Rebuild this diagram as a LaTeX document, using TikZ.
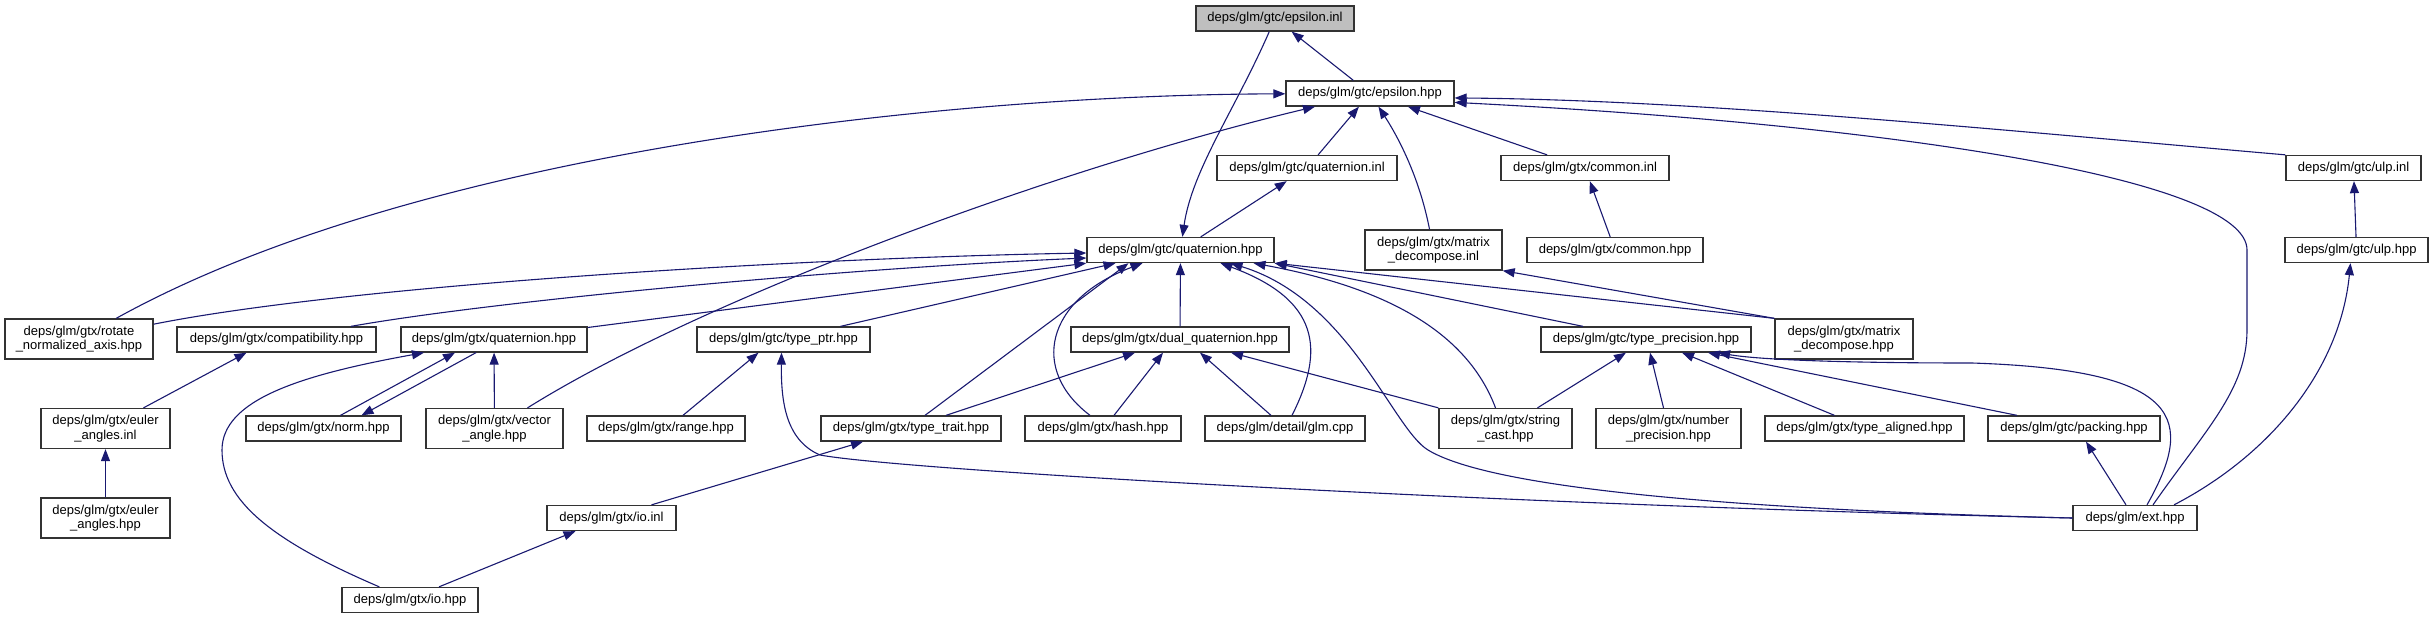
\documentclass[tikz,border=0pt]{standalone}
\usepackage{fontspec}
\setmainfont{Liberation Sans}
\usetikzlibrary{arrows.meta}
\definecolor{edgeblue}{RGB}{25,25,112}
\definecolor{focusgray}{RGB}{191,191,191}
\newcommand\boxfont{\fontsize{13}{14.5}\selectfont}
\begin{document}
\begin{tikzpicture}[x=1pt,y=-1pt,
  file/.style={draw=black!80,line width=1.3pt,fill=white,inner sep=0pt,
    minimum height=25pt,align=center,font=\boxfont},
  twoline/.style={file,minimum height=40pt},
  inc/.style={draw=edgeblue,line width=1.1pt,
    -{Triangle[length=12pt,width=9pt]}}]
  \useasboundingbox (0,0) rectangle (2433,619);
  % files, rank by rank
  \node[file,fill=focusgray,minimum width=158pt] (einl) at (1275,18.5) {deps/glm/gtc/epsilon.inl};
  \node[file,minimum width=168pt] (ehpp) at (1370,93.5) {deps/glm/gtc/epsilon.hpp};
  \node[file,minimum width=180pt] (qinl) at (1307,168) {deps/glm/gtc/quaternion.inl};
  \node[file,minimum width=168pt] (cinl) at (1585,168) {deps/glm/gtx/common.inl};
  \node[file,minimum width=135pt] (ulpinl) at (2353.5,168) {deps/glm/gtc/ulp.inl};
  \node[file,minimum width=187pt] (qhpp) at (1180.5,250) {deps/glm/gtc/quaternion.hpp};
  \node[twoline,minimum width=137pt] (mdinl) at (1433.5,250) {deps/glm/gtx/matrix\\\_decompose.inl};
  \node[file,minimum width=176pt] (chpp) at (1615,250) {deps/glm/gtx/common.hpp};
  \node[file,minimum width=143pt] (ulphpp) at (2356.5,250) {deps/glm/gtc/ulp.hpp};
  \node[twoline,minimum width=148pt] (rot) at (79,339) {deps/glm/gtx/rotate\\\_normalized\_axis.hpp};
  \node[file,minimum width=199pt] (compat) at (276.5,339.5) {deps/glm/gtx/compatibility.hpp};
  \node[file,minimum width=186pt] (xquat) at (494,339.5) {deps/glm/gtx/quaternion.hpp};
  \node[file,minimum width=173pt] (tptr) at (783.5,339.5) {deps/glm/gtc/type\_ptr.hpp};
  \node[file,minimum width=218pt] (dquat) at (1180,339.5) {deps/glm/gtx/dual\_quaternion.hpp};
  \node[file,minimum width=210pt] (tprec) at (1646,339.5) {deps/glm/gtc/type\_precision.hpp};
  \node[twoline,minimum width=138pt] (mdhpp) at (1844,339) {deps/glm/gtx/matrix\\\_decompose.hpp};
  \node[twoline,minimum width=129pt] (eulinl) at (105.5,428.5) {deps/glm/gtx/euler\\\_angles.inl};
  \node[file,minimum width=155pt] (norm) at (323.5,428.5) {deps/glm/gtx/norm.hpp};
  \node[twoline,minimum width=137pt] (vang) at (494.5,428.5) {deps/glm/gtx/vector\\\_angle.hpp};
  \node[file,minimum width=158pt] (range) at (666,428.5) {deps/glm/gtx/range.hpp};
  \node[file,minimum width=180pt] (ttrait) at (911,428.5) {deps/glm/gtx/type\_trait.hpp};
  \node[file,minimum width=156pt] (hash) at (1103,428.5) {deps/glm/gtx/hash.hpp};
  \node[file,minimum width=160pt] (glmcpp) at (1285,428.5) {deps/glm/detail/glm.cpp};
  \node[twoline,minimum width=133pt] (scast) at (1505.5,428.5) {deps/glm/gtx/string\\\_cast.hpp};
  \node[twoline,minimum width=145pt] (nprec) at (1668.5,428.5) {deps/glm/gtx/number\\\_precision.hpp};
  \node[file,minimum width=199pt] (taligned) at (1864.5,428.5) {deps/glm/gtx/type\_aligned.hpp};
  \node[file,minimum width=172pt] (packing) at (2074,428.5) {deps/glm/gtc/packing.hpp};
  \node[twoline,minimum width=129pt] (eulhpp) at (105.5,518) {deps/glm/gtx/euler\\\_angles.hpp};
  \node[file,minimum width=129pt] (ioinl) at (611.5,518) {deps/glm/gtx/io.inl};
  \node[file,minimum width=124pt] (ext) at (2135,518) {deps/glm/ext.hpp};
  \node[file,minimum width=136pt] (iohpp) at (410,600) {deps/glm/gtx/io.hpp};
  % edges into epsilon.inl / epsilon.hpp
  \draw[inc] (ehpp) -- (einl);
  \draw[inc] (einl) .. controls (1235,110) and (1192,170) .. (qhpp);
  \draw[inc] (rot) .. controls (420,150) and (950,95) .. (ehpp);
  \draw[inc] (vang) .. controls (700,300) and (1050,170) .. (ehpp);
  \draw[inc] (qinl) -- (ehpp);
  \draw[inc] (mdinl) .. controls (1420,180) and (1400,140) .. (ehpp);
  \draw[inc] (cinl) -- (ehpp);
  \draw[inc] (ulpinl.north west) .. controls (2000,130) and (1700,100) .. (ehpp.-3);
  \draw[inc] ([xshift=18pt]ext.north) .. controls (2205,430) and (2247,390) .. (2247,330)
    -- (2247,250) .. controls (2247,180) and (1900,125) .. (ehpp.-6);
  % edges into gtc/quaternion.hpp
  \draw[inc] (rot) .. controls (350,285) and (800,258) .. ([yshift=-3pt]qhpp.west);
  \draw[inc] (compat) .. controls (500,300) and (850,268) .. ([yshift=-8pt]qhpp.west);
  \draw[inc] (xquat) -- (qhpp.south west);
  \draw[inc] ([xshift=57pt]tptr.north) -- ([xshift=-65pt]qhpp.south);
  \draw[inc] ([xshift=14pt]ttrait.north) -- ([xshift=-52pt]qhpp.south);
  \draw[inc] ([xshift=-13pt]hash.north) .. controls (1030,370) and (1045,300) .. ([xshift=-38pt]qhpp.south);
  \draw[inc] (dquat) -- (qhpp);
  \draw[inc] ([xshift=7pt]glmcpp.north) .. controls (1325,350) and (1320,300) .. ([xshift=40pt]qhpp.south);
  \draw[inc] (ext.west) .. controls (1750,510) and (1494,490) .. (1428,450)
    .. controls (1392,428) and (1350,300) .. ([xshift=50pt]qhpp.south);
  \draw[inc] ([xshift=-10pt]scast.north) .. controls (1470,340) and (1400,290) .. ([xshift=73pt]qhpp.south);
  \draw[inc] ([xshift=-63pt]tprec.north) -- (qhpp.south east);
  \draw[inc] (mdhpp.north west) -- (qhpp.south east);
  \draw[inc] (qhpp) -- (qinl);
  % the rest
  \draw[inc] (mdhpp.north west) -- (mdinl.south east);
  \draw[inc] (chpp) -- (cinl);
  \draw[inc] (ulphpp) -- (ulpinl);
  \draw[inc] ([xshift=39pt]ext.north) .. controls (2270,455) and (2340,370) .. ([xshift=-6pt]ulphpp.south);
  \draw[inc] ([xshift=17pt]norm.north) -- ([xshift=-39pt]xquat.south);
  \draw[inc] ([xshift=-18pt]xquat.south) -- ([xshift=38pt]norm.north);
  \draw[inc] (vang) -- (xquat);
  \draw[inc] (iohpp) .. controls (270,540) and (222,500) .. (222,450)
    .. controls (222,400) and (300,375) .. ([xshift=-70pt]xquat.south);
  \draw[inc] ([xshift=38pt]eulinl.north) -- ([xshift=-30pt]compat.south);
  \draw[inc] (eulhpp) -- (eulinl);
  \draw[inc] ([xshift=17pt]range.north) -- ([xshift=-25pt]tptr.south);
  \draw[inc] (ext.west) .. controls (1500,505) and (900,470) .. (820,455)
    .. controls (785,440) and (781,400) .. ([xshift=-2pt]tptr.south);
  \draw[inc] ([xshift=40pt]ioinl.north) -- ([xshift=-48pt]ttrait.south);
  \draw[inc] ([xshift=29pt]iohpp.north) -- ([xshift=-36pt]ioinl.south);
  \draw[inc] ([xshift=35pt]ttrait.north) -- ([xshift=-45pt]dquat.south);
  \draw[inc] ([xshift=11pt]hash.north) -- ([xshift=-17pt]dquat.south);
  \draw[inc] ([xshift=-14pt]glmcpp.north) -- ([xshift=20pt]dquat.south);
  \draw[inc] (scast.north west) -- ([xshift=51pt]dquat.south);
  \draw[inc] ([xshift=32pt]scast.north) -- ([xshift=-20pt]tprec.south);
  \draw[inc] ([xshift=-5pt]nprec.north) -- ([xshift=4pt]tprec.south);
  \draw[inc] ([xshift=-30pt]taligned.north) -- ([xshift=36pt]tprec.south);
  \draw[inc] ([xshift=-57pt]packing.north) -- ([xshift=62pt]tprec.south);
  \draw[inc] ([xshift=12pt]ext.north) .. controls (2195,420) and (2185,370) .. (1972,363)
    .. controls (1850,363) and (1760,360) .. ([xshift=72pt]tprec.south);
  \draw[inc] ([xshift=-9pt]ext.north) -- ([xshift=12pt]packing.south);
\end{tikzpicture}
\end{document}
